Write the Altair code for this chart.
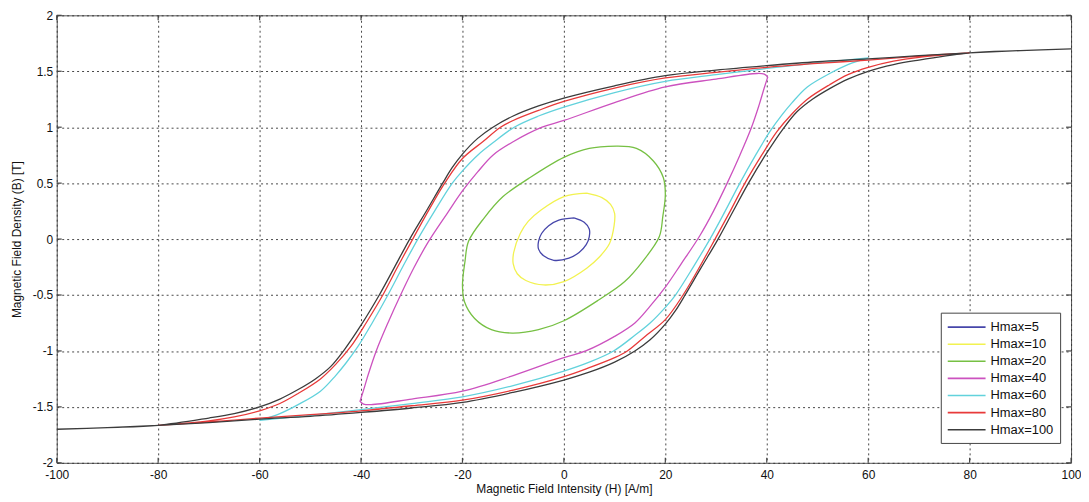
import altair as alt
import pandas as pd

series = ["Hmax=5", "Hmax=10", "Hmax=20", "Hmax=40", "Hmax=60", "Hmax=80", "Hmax=100"]
colors = ["#4646aa", "#f2f250", "#76c043", "#cc52bf", "#62d2dc", "#e83a3a", "#3c3c3c"]

x_ticks = [-100, -80, -60, -40, -20, 0, 20, 40, 60, 80, 100]
y_ticks = [-2, -1.5, -1, -0.5, 0, 0.5, 1, 1.5, 2]

# Hmax=5 (closed loop)
h5 = [2, 4, 5, 5, 4.4, 3, 1, -2, -4, -5, -5, -4.4, -3, -1, 2]
b5 = [0.19, 0.15, 0.09, 0.02, -0.05, -0.12, -0.17, -0.19, -0.15, -0.09, -0.02, 0.05, 0.12, 0.17, 0.19]

# Hmax=10
h10 = [4.5, 7.5, 9.2, 10, 9.9, 9, 7, 4.5, 0, -4, -7.5, -9.2, -10, -9.9, -8.6, -7, -4.5, 0, 4.5]
b10 = [0.41, 0.37, 0.31, 0.23, 0.12, -0.04, -0.16, -0.26, -0.38, -0.41, -0.37, -0.31, -0.22, -0.12, 0.05, 0.16, 0.26, 0.38, 0.41]

# Hmax=20
h20 = [10.4, 14.3, 17.6, 19.6, 20, 19.5, 18.8, 15.7, 12, 7, 0, -5, -10.2, -14.3, -17.6, -19.6, -20, -19.5, -18.8, -15.7, -12, -7, 0, 5, 10.4]
b20 = [0.83, 0.81, 0.70, 0.55, 0.40, 0.20, 0.02, -0.19, -0.38, -0.54, -0.73, -0.81, -0.84, -0.81, -0.71, -0.56, -0.41, -0.20, -0.02, 0.19, 0.38, 0.54, 0.73, 0.81, 0.83]

# Hmax=40: descending branch then ascending branch
h40_down = [40.2, 39.5, 38, 30, 20, 10, 0, -4.3, -10, -14, -17, -20, -23, -26.8, -29.5, -32.2, -34.7, -37, -38.5, -39.5, -40.2]
b40_down = [1.45, 1.475, 1.48, 1.43, 1.36, 1.22, 1.06, 1.0, 0.87, 0.75, 0.6, 0.43, 0.23, -0.03, -0.25, -0.5, -0.75, -1.0, -1.2, -1.35, -1.45]
h40_up = [-40.2, -39.5, -38, -30, -20, -10, 0, 4.3, 10, 14, 17, 20, 23, 26.8, 29.5, 32.2, 34.7, 37, 38.5, 39.5, 40.2]
b40_up = [-1.45, -1.475, -1.48, -1.43, -1.36, -1.22, -1.06, -1.0, -0.87, -0.75, -0.6, -0.43, -0.23, 0.03, 0.25, 0.5, 0.75, 1.0, 1.2, 1.35, 1.45]

# Hmax=60
h60_down = [60, 50, 40, 30, 20, 10, 0, -5, -9.8, -14, -17, -20, -22, -25.5, -28.8, -31.8, -34.7, -37.8, -40.6, -43, -45, -48, -52.4, -56, -60]
b60_down = [1.62, 1.575, 1.525, 1.47, 1.41, 1.31, 1.18, 1.10, 1.0, 0.86, 0.75, 0.61, 0.5, 0.25, 0.0, -0.25, -0.5, -0.75, -0.96, -1.11, -1.22, -1.36, -1.48, -1.56, -1.62]
h60_up = [-60, -50, -40, -30, -20, -10, 0, 5, 9.8, 14, 17, 20, 22, 25.5, 28.8, 31.8, 34.7, 37.8, 40.6, 43, 45, 48, 52.4, 56, 60]
b60_up = [-1.62, -1.575, -1.525, -1.47, -1.41, -1.31, -1.18, -1.10, -1.0, -0.86, -0.75, -0.61, -0.5, -0.25, 0.0, 0.25, 0.5, 0.75, 0.96, 1.11, 1.22, 1.36, 1.48, 1.56, 1.62]

# Hmax=80
h80_down = [80, 70, 60, 50, 40, 30, 20, 10, 0, -5, -10, -12.5, -16, -20, -23.5, -26.5, -29.8, -32.8, -35.7, -39, -42, -45, -48, -52.4, -56, -60, -65, -70, -80]
b80_down = [1.665, 1.635, 1.60, 1.57, 1.535, 1.49, 1.44, 1.35, 1.23, 1.15, 1.06, 1.0, 0.87, 0.72, 0.5, 0.27, 0.0, -0.25, -0.5, -0.75, -0.96, -1.12, -1.25, -1.38, -1.47, -1.535, -1.59, -1.625, -1.665]
h80_up = [-80, -70, -60, -50, -40, -30, -20, -10, 0, 5, 10, 12.5, 16, 20, 23.5, 26.5, 29.8, 32.8, 35.7, 39, 42, 45, 48, 52.4, 56, 60, 65, 70, 80]
b80_up = [-1.665, -1.635, -1.60, -1.57, -1.535, -1.49, -1.44, -1.35, -1.23, -1.15, -1.06, -1.0, -0.87, -0.72, -0.5, -0.27, 0.0, 0.25, 0.5, 0.75, 0.96, 1.12, 1.25, 1.38, 1.47, 1.535, 1.59, 1.625, 1.665]

# Hmax=100
h100_down = [100, 90, 80, 70, 60, 50, 40, 30, 20, 10, 0, -5, -10, -14, -17, -20, -22, -23.9, -27, -30.4, -33.5, -36.4, -40, -43.3, -46, -49, -52.4, -56, -60, -65, -70, -80, -90, -100]
b100_down = [1.70, 1.685, 1.665, 1.64, 1.61, 1.585, 1.55, 1.51, 1.46, 1.37, 1.26, 1.19, 1.10, 1.0, 0.9, 0.76, 0.64, 0.5, 0.26, 0.0, -0.26, -0.5, -0.77, -0.99, -1.14, -1.25, -1.345, -1.43, -1.5, -1.56, -1.60, -1.665, -1.685, -1.70]
h100_up = [-100, -90, -80, -70, -60, -50, -40, -30, -20, -10, 0, 5, 10, 14, 17, 20, 22, 23.9, 27, 30.4, 33.5, 36.4, 40, 43.3, 46, 49, 52.4, 56, 60, 65, 70, 80, 90, 100]
b100_up = [-1.70, -1.685, -1.665, -1.64, -1.61, -1.585, -1.55, -1.51, -1.46, -1.37, -1.26, -1.19, -1.10, -1.0, -0.9, -0.76, -0.64, -0.5, -0.26, 0.0, 0.26, 0.5, 0.77, 0.99, 1.14, 1.25, 1.345, 1.43, 1.5, 1.56, 1.60, 1.665, 1.685, 1.70]

loops = {
    "Hmax=5": (h5, b5),
    "Hmax=10": (h10, b10),
    "Hmax=20": (h20, b20),
    "Hmax=40": (h40_down + h40_up, b40_down + b40_up),
    "Hmax=60": (h60_down + h60_up, b60_down + b60_up),
    "Hmax=80": (h80_down + h80_up, b80_down + b80_up),
    "Hmax=100": (h100_down + h100_up, b100_down + b100_up),
}

rows = []
for name, (hs, bs) in loops.items():
    for i, (h, b) in enumerate(zip(hs, bs)):
        rows.append({"series": name, "H": h, "B": b, "i": i})
df = pd.DataFrame(rows)

FONT = "Arial, Liberation Sans, sans-serif"
W, H = 1020, 450

x_scale = alt.Scale(domain=[-100, 100], nice=False, zero=False)
y_scale = alt.Scale(domain=[-2, 2], nice=False, zero=False)
x_axis = alt.Axis(values=x_ticks, title="Magnetic Field Intensity (H) [A/m]",
                  labelExpr="datum.value + ''", labelFlush=False,
                  titleY=30, titleBaseline="alphabetic")
y_axis = alt.Axis(values=y_ticks, title="Magnetic Field Density (B) [T]",
                  labelExpr="datum.value + ''", labelFlush=False,
                  titleX=-40, titleBaseline="middle")

lines = alt.Chart(df).mark_line(strokeWidth=1.3, clip=True, interpolate="catmull-rom").encode(
    x=alt.X("H:Q", scale=x_scale, axis=x_axis),
    y=alt.Y("B:Q", scale=y_scale, axis=y_axis),
    color=alt.Color("series:N", sort=series,
                    scale=alt.Scale(domain=series, range=colors),
                    legend=alt.Legend(
                        title=None, orient="none", legendX=889, legendY=299,
                        symbolType="M-1,0H4.07", symbolSize=225, symbolStrokeWidth=1.6,
                        labelFontSize=13, labelFont=FONT, labelColor="#111",
                        labelOffset=27, rowPadding=1.2, padding=6,
                        strokeColor="#444", fillColor="white")),
    detail="series:N",
    order="i:Q",
)

xt = pd.DataFrame({"H": x_ticks})
yt = pd.DataFrame({"B": y_ticks})
tick_style = dict(color="#444", strokeWidth=1.2)
x_bottom = alt.Chart(xt).mark_rule(**tick_style).encode(
    x=alt.X("H:Q", scale=x_scale, axis=x_axis), y=alt.value(H), y2=alt.value(H - 5))
x_top = alt.Chart(xt).mark_rule(**tick_style).encode(
    x=alt.X("H:Q", scale=x_scale, axis=x_axis), y=alt.value(0), y2=alt.value(5))
y_left = alt.Chart(yt).mark_rule(**tick_style).encode(
    y=alt.Y("B:Q", scale=y_scale, axis=y_axis), x=alt.value(0), x2=alt.value(5))
y_right = alt.Chart(yt).mark_rule(**tick_style).encode(
    y=alt.Y("B:Q", scale=y_scale, axis=y_axis), x=alt.value(W), x2=alt.value(W - 5))

chart = alt.layer(lines, x_bottom, x_top, y_left, y_right).properties(
    width=W, height=H,
    autosize=alt.AutoSizeParams(type="none"),
    padding={"left": 49, "top": 6, "right": 10, "bottom": 32},
).configure_view(
    stroke="#555", strokeWidth=1
).configure_axis(
    grid=True, gridColor="#333", gridDash=[2, 3], gridOpacity=0.9, gridWidth=1,
    domain=False, ticks=False,
    labelFont=FONT, labelFontSize=12, labelColor="#111", labelPadding=4,
    titleFont=FONT, titleFontSize=12, titleFontWeight="normal", titleColor="#111",
).configure_axisX(labelPadding=7)

chart.save("out.html", embed_options={"renderer": "svg", "actions": False})
